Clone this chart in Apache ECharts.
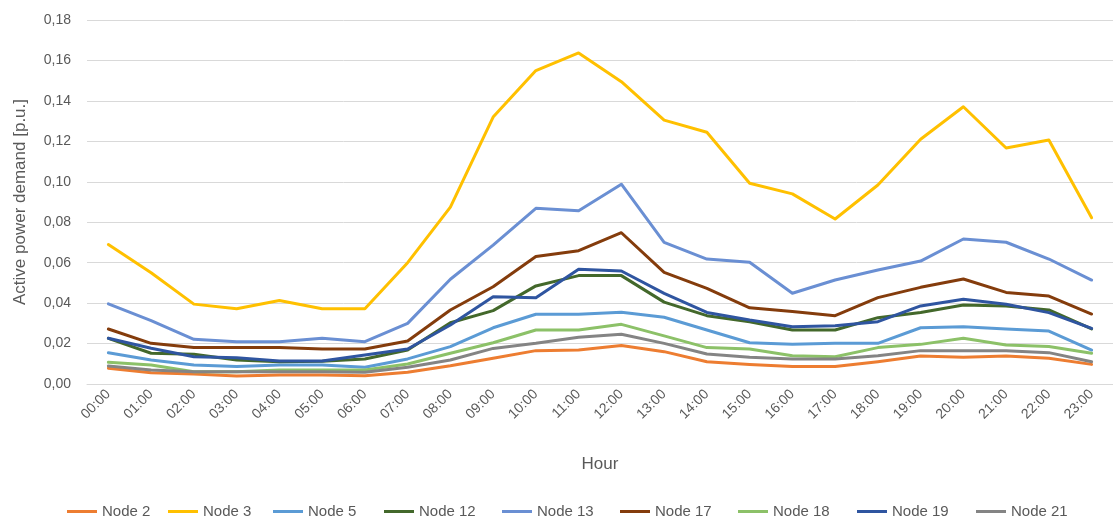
<!DOCTYPE html>
<html>
<head>
<meta charset="utf-8">
<script src="https://cdn.jsdelivr.net/npm/echarts@6/dist/echarts.min.js"></script>
<style>html,body{margin:0;padding:0;background:#fff}#c{width:1113px;height:521px}</style>
</head>
<body>
<div id="c"></div>
<script>
const hours = ['00:00','01:00','02:00','03:00','04:00','05:00','06:00','07:00','08:00','09:00','10:00','11:00','12:00','13:00','14:00','15:00','16:00','17:00','18:00','19:00','20:00','21:00','22:00','23:00'];
const yTicks = [0, 0.02, 0.04, 0.06, 0.08, 0.10, 0.12, 0.14, 0.16, 0.18];
const seriesNames = ['Node 2','Node 3','Node 5','Node 12','Node 13','Node 17','Node 18','Node 19','Node 21'];
const node2  = [0.0078,0.0056,0.0050,0.0040,0.0045,0.0045,0.0041,0.0058,0.0090,0.0127,0.0165,0.0168,0.0190,0.0160,0.0110,0.0097,0.0086,0.0086,0.0110,0.0138,0.0132,0.0138,0.0127,0.0097];
const node3  = [0.0690,0.0550,0.0395,0.0372,0.0413,0.0372,0.0372,0.0600,0.0875,0.1320,0.1550,0.1637,0.1495,0.1305,0.1245,0.0993,0.0940,0.0816,0.0984,0.1210,0.1371,0.1167,0.1207,0.0822];
const node5  = [0.0155,0.0119,0.0094,0.0086,0.0094,0.0094,0.0083,0.0124,0.0185,0.0278,0.0345,0.0345,0.0355,0.0330,0.0267,0.0204,0.0196,0.0201,0.0201,0.0278,0.0283,0.0272,0.0262,0.0168];
const node12 = [0.0226,0.0152,0.0147,0.0119,0.0110,0.0113,0.0124,0.0168,0.0303,0.0363,0.0485,0.0536,0.0536,0.0405,0.0338,0.0308,0.0267,0.0267,0.0328,0.0354,0.0391,0.0386,0.0366,0.0272];
const node13 = [0.0396,0.0313,0.0221,0.0209,0.0209,0.0226,0.0209,0.0300,0.0518,0.0687,0.0869,0.0857,0.0988,0.0700,0.0618,0.0602,0.0449,0.0514,0.0564,0.0608,0.0717,0.0701,0.0618,0.0514];
const node17 = [0.0272,0.0201,0.0181,0.0181,0.0181,0.0173,0.0173,0.0213,0.0366,0.0481,0.0630,0.0659,0.0748,0.0552,0.0473,0.0377,0.0358,0.0338,0.0427,0.0478,0.0519,0.0453,0.0435,0.0346];
const node18 = [0.0107,0.0094,0.0061,0.0061,0.0069,0.0069,0.0069,0.0099,0.0152,0.0204,0.0267,0.0267,0.0295,0.0238,0.0180,0.0173,0.0140,0.0135,0.0180,0.0196,0.0226,0.0193,0.0185,0.0152];
const node19 = [0.0226,0.0177,0.0135,0.0130,0.0114,0.0114,0.0143,0.0173,0.0292,0.0432,0.0427,0.0567,0.0559,0.0448,0.0354,0.0316,0.0283,0.0288,0.0308,0.0386,0.0419,0.0394,0.0353,0.0275];
const node21 = [0.0089,0.0069,0.0061,0.0060,0.0060,0.0060,0.0058,0.0083,0.0119,0.0176,0.0201,0.0231,0.0246,0.0201,0.0148,0.0132,0.0124,0.0124,0.0140,0.0165,0.0165,0.0165,0.0155,0.0110];

const seriesData = [node2,node3,node5,node12,node13,node17,node18,node19,node21];
const colors = ['#ED7D31','#FFC000','#5B9BD5','#43682B','#6A8FD3','#843C0C','#8CC168','#2F55A0','#848484'];
const legendLefts = [62,163,268,379,497,615,733,852,971];
const FONT = '"Liberation Sans Narrow", "Liberation Sans", sans-serif';
const TXT = '#595959';

const chart = echarts.init(document.getElementById('c'));
chart.setOption({
  animation: false,
  color: colors,
  textStyle: {fontFamily: FONT},
  grid: {left: 87, width: 1032, top: 20, bottom: 137, containLabel: false},
  xAxis: {
    type: 'category',
    data: hours,
    boundaryGap: true,
    name: 'Hour',
    nameLocation: 'middle',
    nameGap: 72,
    nameTextStyle: {fontFamily: FONT, fontSize: 17, color: TXT},
    axisLine: {show: true, lineStyle: {color: '#D9D9D9', width: 1}},
    axisTick: {show: false},
    axisLabel: {rotate: 45, fontSize: 14, color: TXT, margin: 8, fontFamily: FONT, interval: 0}
  },
  yAxis: {
    type: 'value',
    min: yTicks[0],
    max: yTicks[yTicks.length - 1],
    interval: 0.02,
    name: 'Active power demand [p.u.]',
    nameLocation: 'middle',
    nameGap: 58,
    nameTextStyle: {fontFamily: FONT, fontSize: 17, color: TXT},
    axisLine: {show: false},
    axisTick: {show: false},
    splitLine: {lineStyle: {color: '#D9D9D9', width: 1}},
    axisLabel: {fontSize: 14, color: TXT, margin: 16, fontFamily: FONT,
      formatter: v => v.toFixed(2).replace('.', ',')}
  },
  legend: seriesNames.map((n, i) => ({
    data: [n],
    left: legendLefts[i],
    top: 499,
    icon: 'rect',
    itemWidth: 30,
    itemHeight: 3,
    itemGap: 5,
    textStyle: {fontSize: 15, color: TXT, fontFamily: FONT, padding: [0, 0, 0, 0]},
    selectedMode: false
  })),
  series: seriesNames.map((n, i) => ({
    name: n,
    type: 'line',
    data: seriesData[i],
    symbol: 'none',
    showSymbol: false,
    smooth: false,
    lineStyle: {width: 3, color: colors[i], cap: 'round', join: 'round'},
    itemStyle: {color: colors[i]}
  }))
});
</script>
</body>
</html>
